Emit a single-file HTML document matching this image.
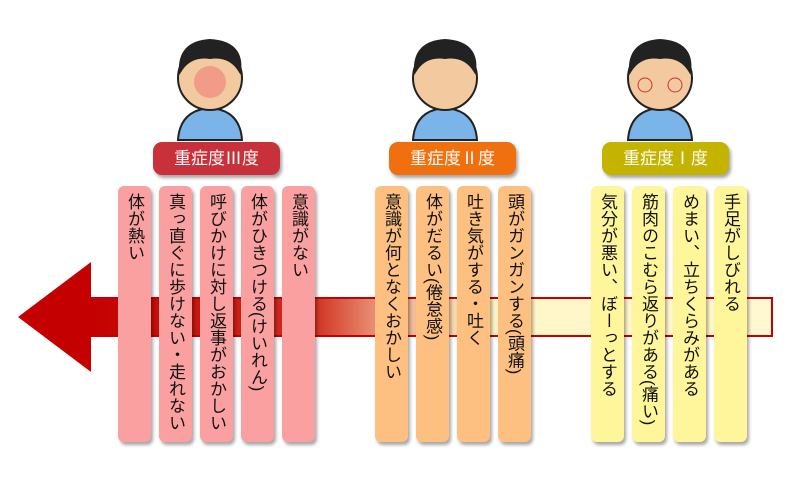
<!DOCTYPE html>
<html><head><meta charset="utf-8"><style>
body{margin:0;background:#fff;width:800px;height:486px;overflow:hidden;position:relative;font-family:"Liberation Sans","Noto Sans CJK JP",sans-serif}
.c{position:absolute;top:186px;height:256px;width:33px;border-radius:6px;box-shadow:2px 3px 3px rgba(0,0,0,.35);writing-mode:vertical-rl;font-size:17px;line-height:33px;padding-top:7px;box-sizing:border-box;color:#111;white-space:nowrap;overflow:hidden;text-align:start}
.r{background:#fba0a0}.o{background:#fdc080}.y{background:#fff59a}
.l{position:absolute;top:142px;height:33px;width:127px;border-radius:9px;color:#fff;font-size:17px;text-align:center;line-height:33px;box-shadow:2px 3px 3px rgba(0,0,0,.35)}
</style></head><body>
<svg width="800" height="486" style="position:absolute;left:0;top:0">
<defs><linearGradient id="g" x1="0" x2="1"><stop offset="0" stop-color="#c40000"/><stop offset=".33" stop-color="#d03020"/><stop offset=".45" stop-color="#f0b090"/><stop offset=".6" stop-color="#fff5c8"/><stop offset="1" stop-color="#fff8d0"/></linearGradient></defs>
<rect x="88" y="298" width="684" height="38" fill="url(#g)" stroke="#c40000" stroke-width="2"/>
<polygon points="18,317 91,262 91,372" fill="#c40000"/>
<g fill="#f3c9a0" stroke="#222" stroke-width="2">
<path d="M178 140 Q180 110 210 108 Q240 110 242 140Z" fill="#7ab4e8"/>
<circle cx="210" cy="78" r="32"/>
<path d="M180 72 Q178 42 210 40 Q244 42 240 72 Q230 55 210 58 Q190 55 180 72Z" fill="#222"/>
<path d="M413 140 Q415 110 445 108 Q475 110 477 140Z" fill="#7ab4e8"/>
<circle cx="445" cy="78" r="32"/>
<path d="M415 72 Q413 42 445 40 Q479 42 475 72 Q465 55 445 58 Q425 55 415 72Z" fill="#222"/>
<path d="M628 140 Q630 110 660 108 Q690 110 692 140Z" fill="#7ab4e8"/>
<circle cx="660" cy="78" r="32"/>
<path d="M630 72 Q628 42 660 40 Q694 42 690 72 Q680 55 660 58 Q640 55 630 72Z" fill="#222"/>
</g>
<circle cx="210" cy="82" r="16" fill="#f07070" opacity=".5"/>
<circle cx="645" cy="85" r="7" fill="none" stroke="#c33"/><circle cx="675" cy="85" r="7" fill="none" stroke="#c33"/>
</svg>
<div class="l" style="left:153px;background:#c8313a">重症度Ⅲ度</div>
<div class="l" style="left:389px;background:#f07010">重症度Ⅱ度</div>
<div class="l" style="left:602px;background:#c4b400">重症度Ⅰ度</div>
<div class="c r" style="left:118px">体が熱い</div>
<div class="c r" style="left:159px">真っ直ぐに歩けない・走れない</div>
<div class="c r" style="left:200px">呼びかけに対し返事がおかしい</div>
<div class="c r" style="left:241px">体がひきつける(けいれん)</div>
<div class="c r" style="left:282px">意識がない</div>
<div class="c o" style="left:375px">意識が何となくおかしい</div>
<div class="c o" style="left:416px">体がだるい(倦怠感)</div>
<div class="c o" style="left:457px">吐き気がする・吐く</div>
<div class="c o" style="left:498px">頭がガンガンする(頭痛)</div>
<div class="c y" style="left:591px">気分が悪い、ぼーっとする</div>
<div class="c y" style="left:632px">筋肉のこむら返りがある(痛い)</div>
<div class="c y" style="left:673px">めまい、立ちくらみがある</div>
<div class="c y" style="left:714px">手足がしびれる</div>
</body></html>
